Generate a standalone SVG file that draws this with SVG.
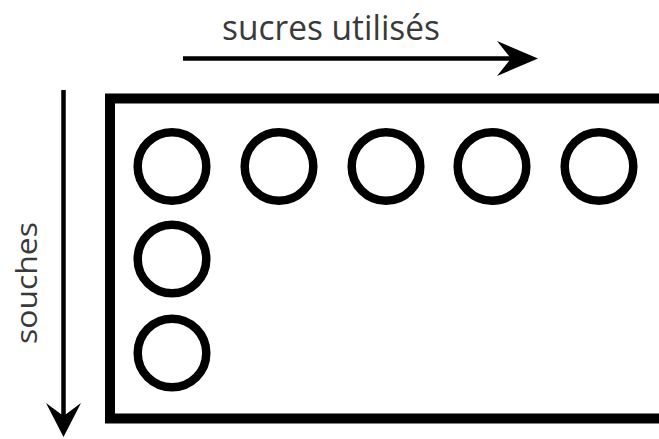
<svg xmlns="http://www.w3.org/2000/svg" width="659" height="439" viewBox="0 0 659 439">
  <style>
    .label { font-family: "Open Sans", "Liberation Sans", sans-serif; fill: #3a3a3a; }
    .well { fill: none; stroke: #000; stroke-width: 8.5; }
    .axis { stroke: #000; stroke-width: 4.5; fill: none; }
    .head { fill: #000; }
  </style>
  <rect width="659" height="439" fill="#fff"/>

  <!-- axes -->
  <g id="connectors">
    <line class="axis" x1="183" y1="58.5" x2="515" y2="58.5"/>
    <path class="head" d="M538,58.5 L497,41 L511,58.5 L497,76 Z"/>
    <line class="axis" x1="63.5" y1="90" x2="63.5" y2="418"/>
    <path class="head" d="M63.5,437 L46,403 L63.5,416 L81,403 Z"/>
  </g>

  <g id="label-sugars">
    <text class="label" x="222" y="40" font-size="34" textLength="218" lengthAdjust="spacingAndGlyphs">sucres utilisés</text>
  </g>
  <g id="label-strains">
    <text class="label" transform="translate(37,283) rotate(-90)" font-size="30" text-anchor="middle" textLength="122" lengthAdjust="spacingAndGlyphs">souches</text>
  </g>

  <!-- plate -->
  <g id="plate">
    <path d="M680,98.5 H110 V418.5 H680" fill="none" stroke="#000" stroke-width="10"/>
  </g>

  <!-- wells -->
  <g id="well-1-1"><circle class="well" cx="172" cy="166.5" r="34.3"/></g>
  <g id="well-1-2"><circle class="well" cx="279" cy="166.5" r="34.3"/></g>
  <g id="well-1-3"><circle class="well" cx="386" cy="166.5" r="34.3"/></g>
  <g id="well-1-4"><circle class="well" cx="492" cy="166.5" r="34.3"/></g>
  <g id="well-1-5"><circle class="well" cx="599" cy="166.5" r="34.3"/></g>
  <g id="well-2-1"><circle class="well" cx="172" cy="259" r="34.3"/></g>
  <g id="well-3-1"><circle class="well" cx="172" cy="353" r="34.3"/></g>
</svg>
